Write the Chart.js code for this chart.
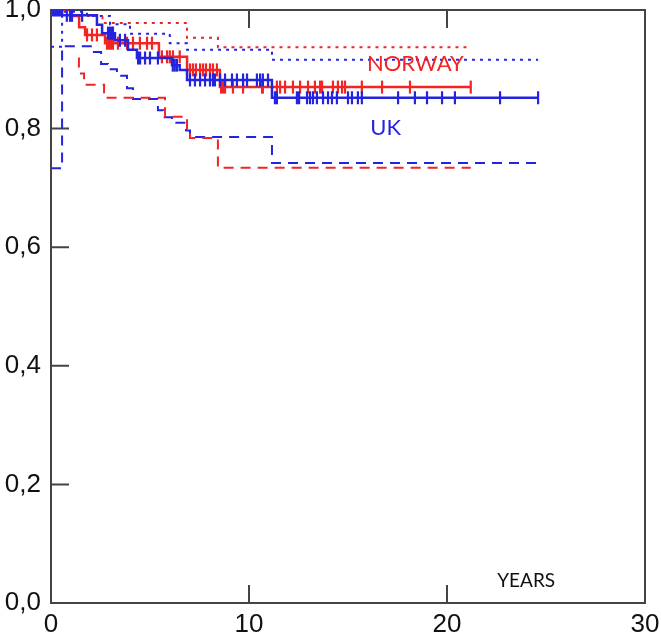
<!DOCTYPE html>
<html lang="en">
<head>
<meta charset="UTF-8">
<title>Survival UK / Norway</title>
<script src="https://cdn.jsdelivr.net/npm/chart.js"></script>
<style>
  body { margin: 0; background: #fff; }
</style>
</head>
<body>
<canvas id="kmChart" width="661" height="638"></canvas>
<script>
    // UK (blue): Kaplan-Meier step points (time in years, survival)
    const ukTimes = [0, 0.56, 2.32, 2.58, 3.23, 3.89, 4.34, 6.11, 6.5, 6.87, 11.16, 24.6];
    const ukSurv  = [1.0, 0.991, 0.975, 0.961, 0.949, 0.933, 0.919, 0.907, 0.899, 0.882, 0.852, 0.852];
    const ukUpperTimes = [0, 0.56, 1.82, 2.98, 3.99, 6.0, 6.87, 11.16, 24.6];
    const ukUpper      = [0.938, 0.997, 0.99, 0.976, 0.96, 0.944, 0.933, 0.916, 0.916];
    const ukLowerTimes = [0, 0.56, 2.07, 2.53, 2.88, 3.33, 3.84, 4.14, 5.4, 5.66, 6.11, 6.82, 7.02, 11.16, 24.6];
    const ukLower      = [0.733, 0.939, 0.929, 0.909, 0.9, 0.889, 0.868, 0.85, 0.831, 0.819, 0.81, 0.797, 0.786, 0.742, 0.742];
    const ukCensored = [0.1, 0.2, 0.3, 0.4, 0.5, 0.8, 0.96, 1.06, 1.57, 2.88, 2.98, 3.08, 3.13, 3.48, 3.74,
        4.4, 4.5, 4.75, 5.0, 5.4, 6.15, 6.25, 6.36, 7.02, 7.27, 7.53, 7.78, 8.03, 8.18, 8.28, 8.54, 8.79,
        9.14, 9.39, 9.7, 9.9, 10.4, 10.56, 10.7, 10.96, 11.31, 11.41, 12.42, 12.53, 12.93, 13.08, 13.23,
        13.43, 13.74, 13.99, 14.19, 14.44, 15.0, 15.2, 15.5, 15.7, 17.53, 18.38, 18.99, 19.75, 20.4, 22.68, 24.6];

    // Norway (red)
    const noTimes = [0, 1.0, 1.42, 1.72, 2.73, 5.45, 6.87, 8.53, 21.2];
    const noSurv  = [1.0, 0.99, 0.971, 0.958, 0.944, 0.921, 0.899, 0.87, 0.87];
    const noUpperTimes = [1.41, 2.6, 6.87, 8.43, 21.2];
    const noUpper      = [0.99, 0.978, 0.953, 0.937, 0.937];
    const noLowerTimes = [1.41, 1.41, 1.67, 2.68, 5.76, 6.87, 7.02, 8.43, 21.2];
    const noLower      = [0.92, 0.893, 0.874, 0.852, 0.82, 0.798, 0.784, 0.734, 0.734];
    const noCensored = [1.82, 2.07, 2.32, 2.83, 2.93, 3.03, 3.13, 3.38, 3.84, 4.14, 4.49, 4.85, 5.1,
        5.6, 5.86, 6.0, 6.16, 6.5, 7.02, 7.17, 7.32, 7.53, 7.68, 7.83, 8.03, 8.18, 8.38, 8.59, 8.69,
        8.79, 9.19, 9.7, 10.66, 10.7, 11.41, 11.57, 11.82, 12.22, 12.58, 12.98, 13.33, 13.59, 13.69,
        14.24, 14.49, 14.7, 14.85, 15.7, 16.72, 18.13, 21.2];

    const xTicks = [0, 10, 20, 30];
    const yTicks = [0, 0.2, 0.4, 0.6, 0.8, 1.0];

    const RED = '#f22424';
    const BLUE = '#2424e0';

    // 打ち切り点の生存率 (step function の値)
    function survAt(times, surv, t) {
        let v = surv[0];
        for (let i = 0; i < times.length; i++) {
            if (times[i] <= t) v = surv[i];
        }
        return v;
    }

    function pts(times, vals) {
        return times.map((t, i) => ({ x: t, y: vals[i] }));
    }

    function stepLine(times, vals, color, dash, width) {
        return {
            type: 'line',
            data: pts(times, vals),
            borderColor: color,
            borderWidth: width,
            borderDash: dash,
            stepped: true,
            pointRadius: 0,
            fill: false
        };
    }

    function censorMarks(times, surv, censored, color) {
        return {
            type: 'scatter',
            data: censored.map(t => ({ x: t, y: survAt(times, surv, t) })),
            pointStyle: 'line',
            rotation: 90,
            pointRadius: 6.5,
            borderColor: color,
            borderWidth: 2.2
        };
    }

    // 枠線と内向きの目盛り
    const framePlugin = {
        id: 'frame',
        beforeDatasetsDraw(chart) {
            const { ctx, chartArea: a, scales } = chart;
            ctx.save();
            ctx.strokeStyle = '#444';
            ctx.lineWidth = 2;
            ctx.strokeRect(a.left, a.top, a.right - a.left, a.bottom - a.top);
            ctx.beginPath();
            xTicks.slice(1, -1).forEach(v => {
                const px = scales.x.getPixelForValue(v);
                ctx.moveTo(px, a.bottom); ctx.lineTo(px, a.bottom - 18);
                ctx.moveTo(px, a.top); ctx.lineTo(px, a.top + 18);
            });
            yTicks.slice(1, -1).forEach(v => {
                const py = scales.y.getPixelForValue(v);
                ctx.moveTo(a.left, py); ctx.lineTo(a.left + 18, py);
            });
            ctx.stroke();
            ctx.restore();
        }
    };

    const chartLabels = [
        { text: 'NORWAY', x: 18.4, y: 0.909, color: RED, size: 22 },
        { text: 'UK', x: 16.9, y: 0.801, color: BLUE, size: 22 },
        { text: 'YEARS', x: 24.0, y: 0.037, color: '#111', size: 19 }
    ];

    const labelPlugin = {
        id: 'labels',
        afterDatasetsDraw(chart) {
            const { ctx, scales } = chart;
            ctx.save();
            ctx.textAlign = 'center';
            ctx.textBaseline = 'middle';
            chartLabels.forEach(l => {
                ctx.fillStyle = l.color;
                ctx.font = l.size + 'px Lato, "Open Sans", sans-serif';
                ctx.fillText(l.text, scales.x.getPixelForValue(l.x), scales.y.getPixelForValue(l.y));
            });
            ctx.restore();
        }
    };

    const ctx = document.getElementById('kmChart').getContext('2d');
    new Chart(ctx, {
        type: 'line',
        data: {
            datasets: [
                censorMarks(ukTimes, ukSurv, ukCensored, BLUE),
                stepLine(ukTimes, ukSurv, BLUE, [], 2.5),
                censorMarks(noTimes, noSurv, noCensored, RED),
                stepLine(noTimes, noSurv, RED, [], 2.5),
                stepLine(noUpperTimes, noUpper, RED, [3, 5], 2),
                stepLine(noLowerTimes, noLower, RED, [10, 7], 2),
                stepLine(ukUpperTimes, ukUpper, BLUE, [3, 5], 2),
                stepLine(ukLowerTimes, ukLower, BLUE, [10, 7], 2)
            ]
        },
        options: {
            responsive: false,
            animation: false,
            layout: { padding: { top: 10, right: 16, left: 0, bottom: 0 } },
            plugins: { legend: { display: false }, tooltip: { enabled: false } },
            scales: {
                x: {
                    type: 'linear',
                    min: 0, max: 30,
                    afterBuildTicks: s => { s.ticks = xTicks.map(v => ({ value: v })); },
                    afterFit: s => { s.height = 35; s.paddingLeft = 0; s.paddingRight = 0; },
                    grid: { display: false, drawTicks: false },
                    border: { display: false },
                    ticks: {
                        padding: 6,
                        color: '#111',
                        font: { family: '"Liberation Sans", Arial, sans-serif', size: 26 }
                    }
                },
                y: {
                    type: 'linear',
                    min: 0, max: 1,
                    afterBuildTicks: s => { s.ticks = yTicks.map(v => ({ value: v })); },
                    afterFit: s => { s.width = 51; s.paddingTop = 0; s.paddingBottom = 0; },
                    grid: { display: false, drawTicks: false },
                    border: { display: false },
                    ticks: {
                        padding: 10,
                        color: '#111',
                        font: { family: '"Liberation Sans", Arial, sans-serif', size: 26 },
                        callback: v => v.toFixed(1).replace('.', ',')
                    }
                }
            }
        },
        plugins: [framePlugin, labelPlugin]
    });
</script>
</body>
</html>
